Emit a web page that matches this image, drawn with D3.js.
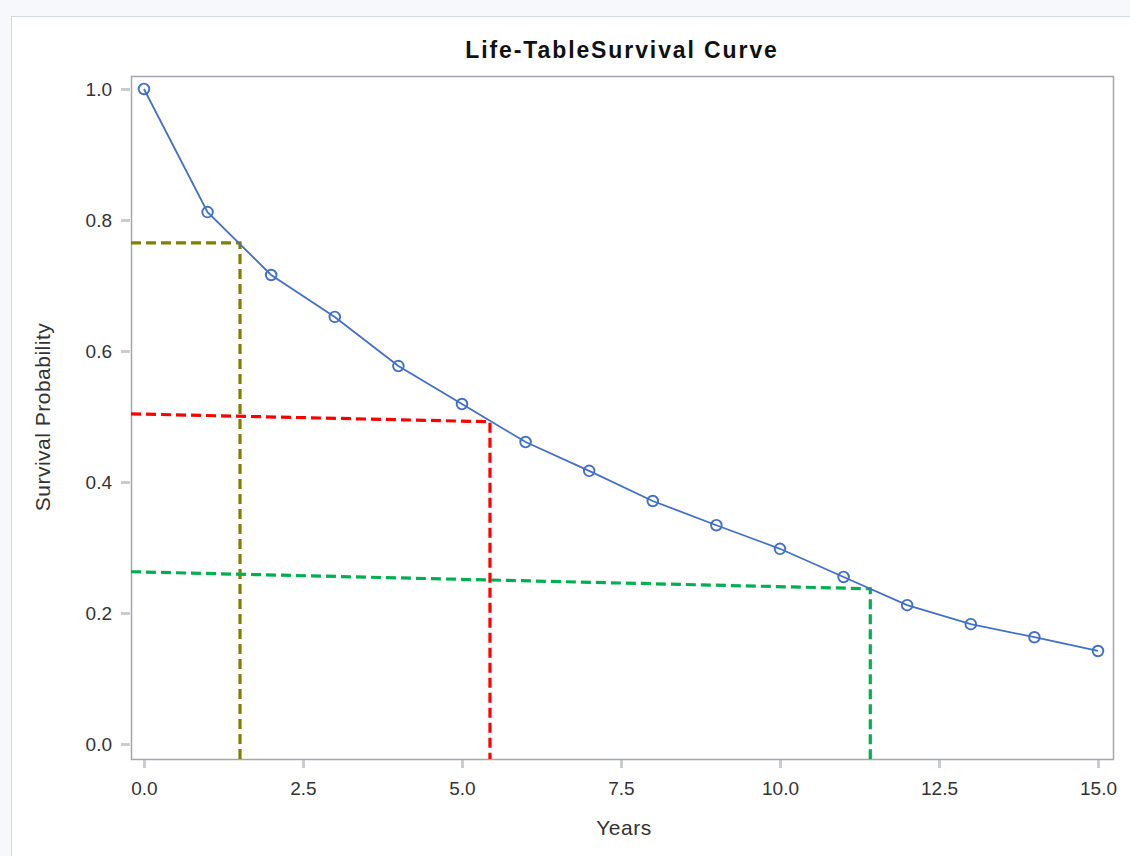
<!DOCTYPE html>
<html>
<head>
<meta charset="utf-8">
<script src="https://cdn.jsdelivr.net/npm/d3@7"></script>
<style>
  body { margin: 0; background: #f7f8fc; }
  svg text { font-family: "Liberation Sans", Arial, sans-serif; }
</style>
</head>
<body>
<svg id="chart" width="1130" height="856"></svg>
<script>
const years = [0, 1, 2, 3, 4, 5, 6, 7, 8, 9, 10, 11, 12, 13, 14, 15];
const survival = [1.0, 0.812, 0.716, 0.652, 0.577, 0.519, 0.461, 0.417,
                  0.371, 0.334, 0.298, 0.255, 0.212, 0.183, 0.163, 0.142];

// reference (quantile) lines: drop point on the x axis, value at left edge and at the drop
const refX = [1.51, 5.44, 11.42];
const refYLeft = [0.765, 0.504, 0.263];
const refYRight = [0.765, 0.492, 0.237];
const refColors = ["#808000", "#ff0000", "#00b050"];

const xTicks = [0, 2.5, 5, 7.5, 10, 12.5, 15];
const yTicks = [0, 0.2, 0.4, 0.6, 0.8, 1.0];

const svg = d3.select("#chart");

// white panel with its frame
svg.append("rect")
   .attr("x", 11.5)
   .attr("y", 16.5)
   .attr("width", 1130)
   .attr("height", 856)
   .attr("fill", "#fff")
   .attr("stroke", "#d3d7de");

const plotLeft = 131, plotRight = 1113, plotTop = 76, plotBottom = 759;

const x = d3.scaleLinear()
    .domain([-0.204, 15.236])
    .range([plotLeft, plotRight]);

const y = d3.scaleLinear()
    .domain([-0.0229, 1.0198])
    .range([plotBottom, plotTop]);

// axes
const xAxis = svg.append("g")
    .attr("transform", `translate(0,${plotBottom + 1})`)
    .call(d3.axisBottom(x).tickValues(xTicks).tickSize(8).tickPadding(14)
            .tickFormat(d3.format(".1f")));

const yAxis = svg.append("g")
    .attr("transform", `translate(${plotLeft - 1},0)`)
    .call(d3.axisLeft(y).tickValues(yTicks).tickSize(9).tickPadding(9)
            .tickFormat(d3.format(".1f")));

[xAxis, yAxis].forEach(g => {
    g.select(".domain").remove();
    g.selectAll(".tick line")
     .attr("stroke", "#c9cdd2")
     .attr("stroke-width", 3);
    g.selectAll(".tick text")
     .attr("fill", "#333")
     .style("font-size", "19px")
     .style("font-family", "'Liberation Sans', Arial, sans-serif");
});

// plot border
svg.append("rect")
   .attr("x", plotLeft + 0.5)
   .attr("y", plotTop + 0.5)
   .attr("width", plotRight - plotLeft)
   .attr("height", plotBottom - plotTop)
   .attr("fill", "none")
   .attr("stroke", "#a3a7ab")
   .attr("stroke-width", 1.5);

// reference lines
refX.forEach((rx, i) => {
    const pts = [[x.domain()[0], refYLeft[i]], [rx, refYRight[i]], [rx, y.domain()[0]]];
    svg.append("path")
       .attr("d", d3.line().x(d => x(d[0])).y(d => y(d[1]))(pts))
       .attr("fill", "none")
       .attr("stroke", refColors[i])
       .attr("stroke-width", 3.2)
       .attr("stroke-dasharray", "10,5");
});

// survival curve
const blue = "#4270c8";
const pts = years.map((yr, i) => [yr, survival[i]]);

svg.append("path")
   .attr("d", d3.line().x(d => x(d[0])).y(d => y(d[1]))(pts))
   .attr("fill", "none")
   .attr("stroke", blue)
   .attr("stroke-width", 1.8);

svg.selectAll(".pt")
   .data(pts)
   .enter()
   .append("circle")
   .attr("class", "pt")
   .attr("cx", d => x(d[0]))
   .attr("cy", d => y(d[1]))
   .attr("r", 5.3)
   .attr("fill", "none")
   .attr("stroke", blue)
   .attr("stroke-width", 1.9);

// titles
svg.append("text")
   .attr("x", 622)
   .attr("y", 58)
   .attr("text-anchor", "middle")
   .style("font-size", "23px")
   .style("font-weight", "bold")
   .style("letter-spacing", "1.9px")
   .attr("fill", "#111")
   .text("Life-TableSurvival Curve");

svg.append("text")
   .attr("x", 624)
   .attr("y", 835)
   .attr("text-anchor", "middle")
   .style("font-size", "21px")
   .style("letter-spacing", "0.5px")
   .attr("fill", "#333")
   .text("Years");

svg.append("text")
   .attr("transform", `translate(50,417) rotate(-90)`)
   .attr("text-anchor", "middle")
   .style("font-size", "21px")
   .style("letter-spacing", "0.5px")
   .attr("fill", "#333")
   .text("Survival Probability");
</script>
</body>
</html>
